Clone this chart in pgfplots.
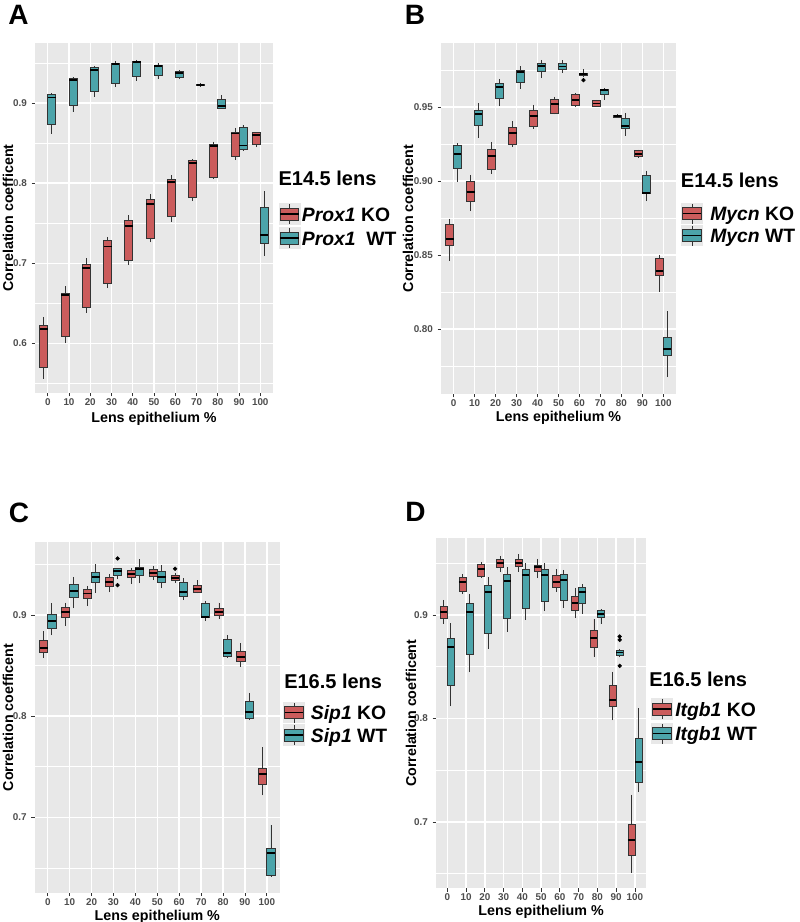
\documentclass[border=0pt]{standalone}
\usepackage{fontspec}
\setmainfont{Liberation Sans}
\usepackage{pgfplots}
\usepackage{pgfplotstable}
\pgfplotsset{compat=1.18}
\usepgfplotslibrary{statistics}
\definecolor{bg}{RGB}{232,232,232}
\definecolor{edge}{RGB}{51,51,51}
\definecolor{tickgray}{RGB}{77,77,77}
\definecolor{kored}{RGB}{203,92,92}
\definecolor{wtteal}{RGB}{76,164,170}

% columns: lower whisker, Q1, median, Q3, upper whisker; rows = 0%,10%,...,100%
\pgfplotstableread{
lw q1 med q3 uw
0.556 0.570 0.618 0.623 0.633
0.600 0.609 0.660 0.662 0.671
0.638 0.645 0.694 0.698 0.706
0.669 0.675 0.721 0.728 0.733
0.698 0.703 0.747 0.754 0.760
0.726 0.731 0.774 0.780 0.786
0.752 0.758 0.801 0.805 0.810
0.778 0.782 0.825 0.828 0.830
0.805 0.807 0.846 0.849 0.852
0.829 0.833 0.862 0.863 0.869
0.845 0.848 0.860 0.863 0.8635
}\AKO
\pgfplotstableread{
lw q1 med q3 uw
0.862 0.874 0.907 0.911 0.912
0.889 0.897 0.929 0.931 0.933
0.908 0.915 0.941 0.944 0.946
0.920 0.925 0.949 0.950 0.952
0.928 0.933 0.951 0.952 0.954
0.930 0.934 0.946 0.947 0.950
0.930 0.932 0.9375 0.939 0.941
0.921 0.9216 0.9229 0.9238 0.9245
0.893 0.894 0.896 0.905 0.910
0.841 0.842 0.847 0.870 0.873
0.709 0.725 0.735 0.770 0.790
}\AWT
\pgfplotstableread{
lw q1 med q3 uw
0.846 0.8565 0.8606 0.8707 0.8745
0.8797 0.886 0.8925 0.8997 0.9042
0.9049 0.9082 0.9167 0.9214 0.9261
0.923 0.9246 0.9325 0.9365 0.9403
0.9352 0.9369 0.9437 0.9475 0.9516
0.945 0.946 0.952 0.9554 0.9571
0.9497 0.9509 0.9549 0.9583 0.9594
0.9502 0.9504 0.9524 0.9542 0.9549
0.9428 0.9433 0.9439 0.9446 0.9453
0.9163 0.9165 0.9185 0.9206 0.9212
0.8253 0.8363 0.8392 0.8476 0.850
}\BKO
\pgfplotstableread{
lw q1 med q3 uw
0.8992 0.9084 0.9185 0.9241 0.9255
0.9293 0.9374 0.9455 0.948 0.9527
0.9504 0.9561 0.9635 0.9657 0.9691
0.9625 0.967 0.9738 0.9745 0.9776
0.9695 0.9743 0.978 0.9792 0.9819
0.9733 0.9756 0.9774 0.9794 0.9817
0.9706 0.9711 0.9722 0.9731 0.9756
0.9549 0.9583 0.9615 0.9621 0.963
0.9307 0.9356 0.9374 0.9423 0.946
0.8862 0.8914 0.892 0.9035 0.9071
0.7674 0.7824 0.7865 0.7943 0.8119
}\BWT
\pgfplotstableread{
lw q1 med q3 uw
0.8578 0.8634 0.8671 0.8753 0.8842
0.8891 0.8977 0.9027 0.9076 0.9122
0.9089 0.9161 0.9214 0.9257 0.929
0.9224 0.9287 0.9329 0.9373 0.9402
0.9306 0.9369 0.9408 0.9445 0.9468
0.9346 0.9385 0.9418 0.9451 0.9487
0.9319 0.9346 0.9369 0.9388 0.9412
0.9214 0.9224 0.926 0.929 0.9343
0.8964 0.8997 0.9033 0.9066 0.9122
0.8489 0.8545 0.8585 0.8638 0.872
0.7218 0.733 0.7426 0.7485 0.7693
}\CKO
\pgfplotstableread{
lw q1 med q3 uw
0.8799 0.8869 0.8944 0.9007 0.9116
0.9066 0.9178 0.924 0.9303 0.9378
0.922 0.9323 0.9373 0.9422 0.9501
0.9353 0.9395 0.9435 0.9461 0.9462
0.9313 0.9395 0.9452 0.9471 0.9553
0.9264 0.9319 0.9373 0.9428 0.9494
0.9148 0.9188 0.9224 0.9319 0.9363
0.8944 0.8977 0.8983 0.9116 0.9141
0.8578 0.8588 0.8627 0.876 0.8802
0.7962 0.7979 0.8045 0.815 0.8232
0.6414 0.6431 0.6645 0.6695 0.6925
}\CWT
\pgfplotstableread{
lw q1 med q3 uw
0.8913 0.8968 0.9032 0.9087 0.9145
0.92 0.9225 0.9315 0.936 0.9392
0.936 0.9376 0.9441 0.9489 0.9508
0.9418 0.946 0.9499 0.9533 0.9569
0.9418 0.9466 0.9504 0.9537 0.9585
0.9354 0.9418 0.946 0.9482 0.954
0.9225 0.9267 0.9321 0.9386 0.9441
0.8968 0.9048 0.9113 0.9176 0.9263
0.8598 0.8689 0.8775 0.8855 0.8959
0.7981 0.8116 0.818 0.8318 0.8453
0.6509 0.6679 0.6824 0.6975 0.7264
}\DKO
\pgfplotstableread{
lw q1 med q3 uw
0.8116 0.8318 0.8694 0.8769 0.892
0.8444 0.8621 0.9032 0.9113 0.9203
0.8669 0.8817 0.9219 0.9289 0.9364
0.8839 0.8965 0.9328 0.9392 0.946
0.8952 0.9065 0.9386 0.9441 0.9499
0.9039 0.9129 0.9386 0.9444 0.9499
0.907 0.9145 0.9338 0.9392 0.9434
0.901 0.9113 0.9225 0.9267 0.9296
0.891 0.8978 0.901 0.9042 0.9055
0.8592 0.8605 0.8637 0.8656 0.8672
0.7287 0.7387 0.7576 0.7811 0.81
}\DWT

\pgfplotsset{
  panel/.style={
    scale only axis,
    anchor=north west,
    xmin=-0.6, xmax=10.6,
    xtick={0,...,10},
    xticklabels={0,10,20,30,40,50,60,70,80,90,100},
    axis background/.style={fill=bg},
    axis line style={draw=none},
    grid=both,
    major grid style={white, line width=1.1pt},
    minor grid style={white, line width=0.55pt},
    tick align=outside,
    tick pos=left,
    major tick length=2.5pt,
    minor tick length=0pt,
    tick style={edge, line width=0.6pt},
    ticklabel style={font=\fontsize{7.4}{8}\selectfont\bfseries, text=tickgray},
    xticklabel style={inner sep=1.6pt},
    /pgf/number format/assume math mode=true,
    label style={font=\fontsize{10.7}{12}\selectfont\bfseries},
    xlabel={Lens epithelium \%},
    ylabel={Correlation coefficent},
    boxplot/draw direction=y,
  },
  bxbase/.style={draw=edge, line width=0.55pt, solid, mark=none,
    boxplot/box extend=0.375, boxplot/whisker extend=0,
    boxplot/every median/.style={draw=black, line width=1.4pt}},
  outl/.style={only marks, mark=*, mark size=1.4pt, draw=black, fill=black},
}

\newcommand{\onebox}[4]{% table, row, position, colour
  \pgfplotstablegetelem{#2}{lw}\of#1\let\vlw\pgfplotsretval
  \pgfplotstablegetelem{#2}{q1}\of#1\let\vqa\pgfplotsretval
  \pgfplotstablegetelem{#2}{med}\of#1\let\vmed\pgfplotsretval
  \pgfplotstablegetelem{#2}{q3}\of#1\let\vqb\pgfplotsretval
  \pgfplotstablegetelem{#2}{uw}\of#1\let\vuw\pgfplotsretval
  \pgfmathsetmacro\vpos{#3}%
  \edef\tmp{\noexpand\addplot[bxbase, fill=#4, boxplot prepared={draw position=\vpos,
    lower whisker=\vlw, lower quartile=\vqa, median=\vmed,
    upper quartile=\vqb, upper whisker=\vuw}] coordinates {};}%
  \tmp}
\newcommand{\boxes}[2]{% #1 KO table, #2 WT table
  \pgfplotsinvokeforeach{0,...,10}{%
    \onebox{#1}{##1}{##1-0.1875}{kored}%
    \onebox{#2}{##1}{##1+0.1875}{wtteal}%
  }}

\newcommand{\legkey}[3]{%
  \begin{scope}[shift={({#1*0.75pt},{-#2*0.75pt})}]
    \fill[bg] (-8.25pt,-8pt) rectangle (8.25pt,8pt);
    \draw[edge,line width=0.5pt] (0,4.5pt) -- (0,7.5pt) (0,-4.5pt) -- (0,-7.5pt);
    \draw[edge,fill=#3,line width=0.6pt] (-7pt,-4.5pt) rectangle (7pt,4.5pt);
    \draw[black,line width=1.1pt] (-7pt,0) -- (7pt,0);
  \end{scope}}
\newcommand{\legtxt}[3]{%
  \node[anchor=base west, inner sep=0pt, font=\fontsize{14.5}{16}\selectfont\bfseries]
    at ({#1*0.75pt},{-#2*0.75pt}) {#3};}
\newcommand{\legtitle}[3]{%
  \node[anchor=base west, inner sep=0pt, font=\fontsize{15}{17}\selectfont\bfseries]
    at ({#1*0.75pt},{-#2*0.75pt}) {#3};}
\newcommand{\plabel}[3]{%
  \node[anchor=center, inner sep=0pt, font=\fontsize{21}{23}\selectfont\bfseries]
    at ({#1*0.75pt},{-#2*0.75pt}) {#3};}

\begin{document}
\begin{tikzpicture}
\useasboundingbox (0,0) rectangle (600pt,-691.5pt);

% ---------- A ----------
\begin{axis}[panel, at={(26.25pt,-32.25pt)}, width=178.5pt, height=262.5pt,
  ymin=0.538, ymax=0.975,
  ytick={0.6,0.7,0.8,0.9}, yticklabels={0.6,0.7,0.8,0.9},
  minor ytick={0.55,0.65,0.75,0.85,0.95},
  xlabel style={at={(axis description cs:0.5,-0.0729)}, anchor=center},
  ylabel style={at={(axis description cs:-0.1134,0.5)}, anchor=center}]
\boxes{\AKO}{\AWT}
\end{axis}

% ---------- B ----------
\begin{axis}[panel, at={(330.75pt,-32.25pt)}, width=176.25pt, height=263.25pt,
  ymin=0.756, ymax=0.9933,
  ytick={0.80,0.85,0.90,0.95}, yticklabels={0.80,0.85,0.90,0.95},
  minor ytick={0.775,0.825,0.875,0.925,0.975},
  xlabel style={at={(axis description cs:0.5,-0.0684)}, anchor=center},
  ylabel style={at={(axis description cs:-0.1404,0.5)}, anchor=center}]
\boxes{\BKO}{\BWT}
\addplot[outl] coordinates {(6.1875,0.9682)};
\end{axis}

% ---------- C ----------
\begin{axis}[panel, at={(25.95pt,-406.7pt)}, width=184.05pt, height=262.8pt,
  ymin=0.6255, ymax=0.972,
  ytick={0.7,0.8,0.9}, yticklabels={0.7,0.8,0.9},
  minor ytick={0.65,0.75,0.85,0.95},
  xlabel style={at={(axis description cs:0.5,-0.068)}, anchor=center},
  ylabel style={at={(axis description cs:-0.1084,0.5)}, anchor=center}]
\boxes{\CKO}{\CWT}
\addplot[outl] coordinates {(3.1875,0.956) (3.1875,0.9296) (5.8125,0.9458)};
\end{axis}

% ---------- D ----------
\begin{axis}[panel, at={(327pt,-403.7pt)}, width=157.65pt, height=262.5pt,
  ymin=0.636, ymax=0.974,
  ytick={0.7,0.8,0.9}, yticklabels={0.7,0.8,0.9},
  minor ytick={0.65,0.75,0.85,0.95},
  xlabel style={at={(axis description cs:0.5,-0.0677)}, anchor=center},
  ylabel style={at={(axis description cs:-0.119,0.5)}, anchor=center}]
\boxes{\DKO}{\DWT}
\addplot[outl] coordinates {(9.1875,0.8791) (9.1875,0.8759) (9.1875,0.8508)};
\end{axis}

% panel letters
\plabel{18.5}{15}{A}
\plabel{415}{15}{B}
\plabel{19}{513}{C}
\plabel{415.5}{512}{D}

% legends
\legtitle{278.3}{185}{E14.5 lens}
\legkey{289.5}{214}{kored}\legtxt{301.7}{221}{\textit{Prox1} KO}
\legkey{289.5}{238}{wtteal}\legtxt{301.7}{245}{\textit{Prox1}\ \ WT}

\legtitle{680.7}{187}{E14.5 lens}
\legkey{692}{213.5}{kored}\legtxt{710}{220.5}{\textit{Mycn} KO}
\legkey{692}{235.5}{wtteal}\legtxt{710}{242.5}{\textit{Mycn} WT}

\legtitle{284}{688.3}{E16.5 lens}
\legkey{294}{712.5}{kored}\legtxt{310.7}{719.5}{\textit{Sip1} KO}
\legkey{294}{735}{wtteal}\legtxt{310.7}{742}{\textit{Sip1} WT}

\legtitle{649}{686}{E16.5 lens}
\legkey{662}{709}{kored}\legtxt{675}{716}{\textit{Itgb1} KO}
\legkey{662}{733.7}{wtteal}\legtxt{675}{740.7}{\textit{Itgb1} WT}
\end{tikzpicture}
\end{document}
